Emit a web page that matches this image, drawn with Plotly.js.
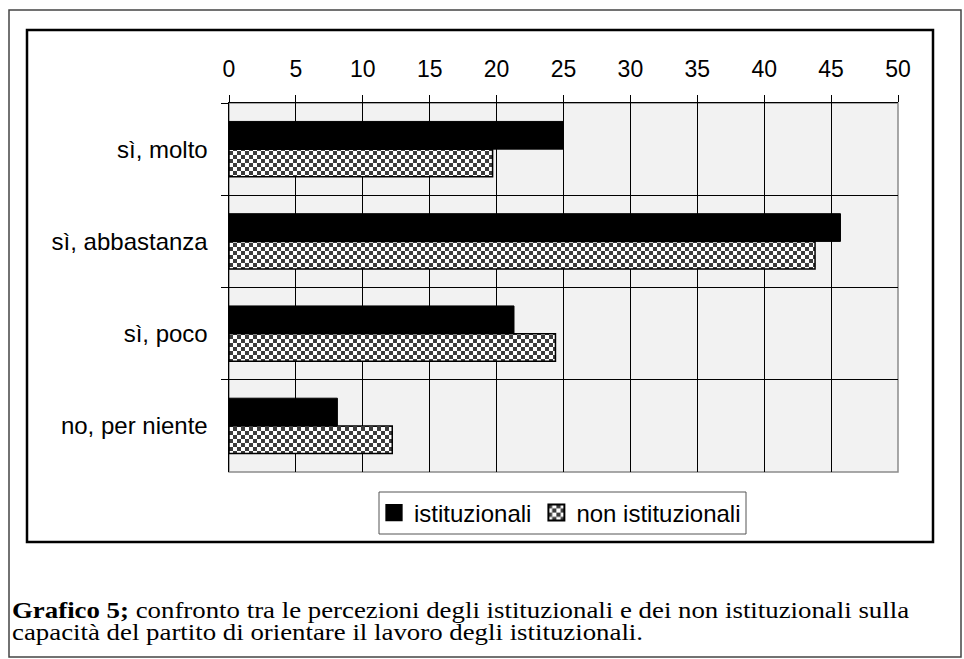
<!DOCTYPE html>
<html>
<head>
<meta charset="utf-8">
<script src="https://cdn.plot.ly/plotly-3.0.1.min.js"></script>
<style>html,body{margin:0;padding:0;background:#fff;}#chart{width:964px;height:659px;}</style>
</head>
<body>
<div id="chart"></div>
<script>
// ---- data ----
const categories = ['sì, molto', 'sì, abbastanza', 'sì, poco', 'no, per niente'];
const istituzionali = [25.0, 45.7, 21.3, 8.1];
const nonIstituzionali = [19.7, 43.8, 24.4, 12.2];
const seriesNames = ['istituzionali', 'non istituzionali'];
const xTicks = [0, 5, 10, 15, 20, 25, 30, 35, 40, 45, 50];
const captionBold = 'Grafico 5;';
const captionLine1 = ' confronto tra le percezioni degli istituzionali e dei non istituzionali sulla';
const captionLine2 = 'capacità del partito di orientare il lavoro degli istituzionali.';

// ---- layout helpers (pixel -> paper) ----
const W = 964, H = 659, L = 229, R = 898, T = 103, B = 472;
const px = p => (p - L) / (R - L);
const py = p => (B - p) / (B - T);
const SANS = 'Liberation Sans, Arial, sans-serif';
const SERIF = 'Liberation Serif, Times New Roman, serif';

const traces = [
  {
    type: 'bar', orientation: 'h', name: seriesNames[0],
    y: categories, x: istituzionali,
    marker: {color: '#000000', line: {color: '#000000', width: 1}},
    hoverinfo: 'x+y'
  },
  {
    type: 'bar', orientation: 'h', name: seriesNames[1],
    y: categories, x: nonIstituzionali,
    marker: {
      color: '#ffffff',
      line: {color: '#000000', width: 1.5},
      pattern: {shape: '.', fgcolor: '#3c3c3c', bgcolor: '#ffffff', size: 8, solidity: 0.5, fillmode: 'replace'}
    },
    hoverinfo: 'x+y'
  }
];

const layout = {
  width: W, height: H,
  margin: {l: L, r: W - R, t: T, b: H - B, pad: 0},
  paper_bgcolor: '#ffffff',
  plot_bgcolor: '#f2f2f2',
  barmode: 'group',
  bargap: 0.4,
  bargroupgap: 0,
  showlegend: true,
  font: {family: SANS, size: 24, color: '#000'},
  xaxis: {
    side: 'top', range: [0, 50], tickvals: xTicks, ticktext: xTicks.map(String),
    ticks: 'outside', ticklen: 7, tickwidth: 1, tickcolor: '#000',
    showline: true, linecolor: '#000', linewidth: 1.5,
    showgrid: true, gridcolor: '#000', gridwidth: 1,
    zeroline: false, fixedrange: true,
    tickfont: {family: SANS, size: 23, color: '#000'},
    ticklabelstandoff: 8
  },
  yaxis: {
    type: 'category', autorange: 'reversed', tickson: 'boundaries',
    ticks: 'outside', ticklen: 7, tickwidth: 1, tickcolor: '#000',
    showline: true, linecolor: '#000', linewidth: 1.5,
    showgrid: true, gridcolor: '#000', gridwidth: 1,
    zeroline: false, fixedrange: true,
    tickfont: {family: SANS, size: 24, color: '#000'},
    ticklabelstandoff: 15
  },
  legend: {
    orientation: 'h', x: px(374), xanchor: 'left', y: py(513), yanchor: 'middle',
    bgcolor: 'rgba(0,0,0,0)', borderwidth: 0,
    font: {family: SANS, size: 24, color: '#000'},
    traceorder: 'normal', itemclick: false, itemdoubleclick: false
  },
  shapes: [
    // plot frame (grey right/bottom)
    {type: 'rect', xref: 'paper', yref: 'paper', x0: 0, x1: 1, y0: 0, y1: 1,
     line: {color: '#8c8c8c', width: 1.5}, layer: 'below'},
    // legend box
    {type: 'rect', xref: 'paper', yref: 'paper', x0: px(379), x1: px(746), y0: py(534), y1: py(492),
     line: {color: '#555', width: 1}, fillcolor: '#ffffff', layer: 'below'},
    // inner chart box
    {type: 'rect', xref: 'paper', yref: 'paper', x0: px(27), x1: px(933), y0: py(542), y1: py(30),
     line: {color: '#000', width: 2.5}},
    // outer figure box
    {type: 'rect', xref: 'paper', yref: 'paper', x0: px(9), x1: px(961), y0: py(657), y1: py(10),
     line: {color: '#444', width: 1.5}}
  ],
  annotations: [
    {xref: 'paper', yref: 'paper', x: px(10), y: py(596), xanchor: 'left', yanchor: 'top',
     showarrow: false, align: 'left',
     text: '<b>' + captionBold + '</b>' + captionLine1 + '<br>' + captionLine2,
     font: {family: SERIF, size: 23, color: '#000'}}
  ]
};

const CAPTION_STRETCH = 1.167;   // reference caption is horizontally widened
const CAPTION_LINE_GAP = 22;     // px between the two caption baselines
const LEGEND_SYMBOL_SCALE = 1.33;

function postStyle() {
  const ns = 'http://www.w3.org/2000/svg';
  // checkerboard fill for the patterned series
  document.querySelectorAll('#chart pattern').forEach(p => {
    const s = 8;
    p.setAttribute('width', s); p.setAttribute('height', s);
    p.setAttribute('patternUnits', 'userSpaceOnUse');
    while (p.firstChild) p.removeChild(p.firstChild);
    const mk = (x, y, w, h, c) => {
      const r = document.createElementNS(ns, 'rect');
      r.setAttribute('x', x); r.setAttribute('y', y);
      r.setAttribute('width', w); r.setAttribute('height', h);
      r.setAttribute('fill', c);
      p.appendChild(r);
    };
    mk(0, 0, s, s, '#ffffff');
    mk(0, 0, s / 2, s / 2, '#3c3c3c');
    mk(s / 2, s / 2, s / 2, s / 2, '#3c3c3c');
  });
  // larger legend swatches
  document.querySelectorAll('#chart .legend .legendpoints path').forEach(p => {
    const prev = p.getAttribute('transform') || '';
    p.setAttribute('transform', prev + ' scale(' + LEGEND_SYMBOL_SCALE + ')');
  });
  // tighter leading + horizontal widening of caption
  document.querySelectorAll('#chart .annotation-text').forEach(t => {
    t.querySelectorAll('tspan.line').forEach((ts, i) => {
      if (i > 0) ts.setAttribute('dy', CAPTION_LINE_GAP + 'px');
    });
    const ax = parseFloat(t.getAttribute('x')) || 0;
    const prev = t.getAttribute('transform') || '';
    t.setAttribute('transform', prev + ' translate(' + ax + ',0) scale(' + CAPTION_STRETCH + ',1) translate(' + (-ax) + ',0)');
  });
}

Plotly.newPlot('chart', traces, layout, {displayModeBar: false, staticPlot: true})
  .then(postStyle);
</script>
</body>
</html>
